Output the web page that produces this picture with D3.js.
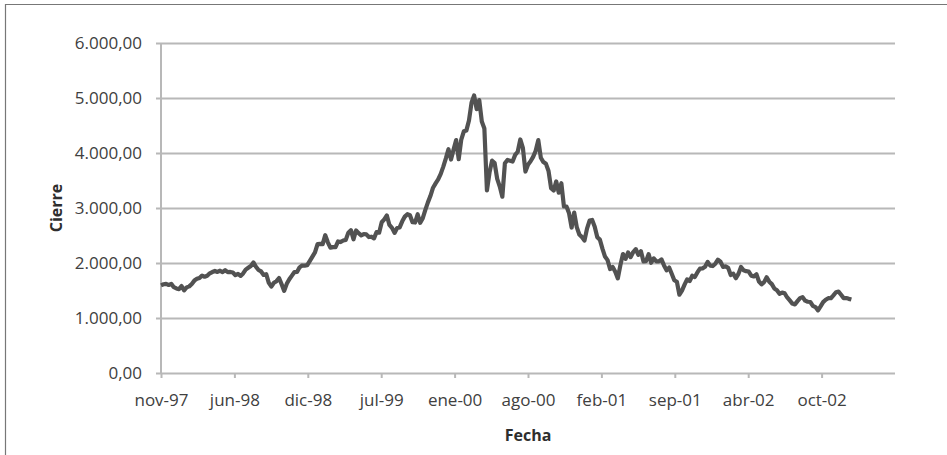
<!DOCTYPE html>
<html>
<head>
<meta charset="utf-8">
<script src="https://cdn.jsdelivr.net/npm/d3@7"></script>
<style>
  html, body { margin: 0; padding: 0; background: #fff; }
  svg { display: block; }
  .tick text { font-family: "Open Sans", sans-serif; font-size: 17px; fill: #404040; }
  .title { font-family: "Open Sans", sans-serif; font-size: 16px; font-weight: bold; fill: #2e2e2e; }
</style>
</head>
<body>
<svg id="chart" width="947" height="455"></svg>
<script>
// Weekly closing values, Nov 1997 - Dec 2002
const closes = [
  1594, 1613, 1620, 1601, 1620, 1560, 1538, 1525, 1581, 1503,
  1557, 1575, 1619, 1680, 1712, 1727, 1771, 1750, 1768, 1812,
  1836, 1855, 1837, 1860, 1833, 1869, 1835, 1837, 1826, 1779,
  1802, 1765, 1810, 1880, 1914, 1947, 2010, 1932, 1873, 1847,
  1782, 1796, 1639, 1574, 1640, 1670, 1727, 1614, 1493, 1621,
  1704, 1771, 1835, 1838, 1921, 1955, 1953, 1960, 2038, 2117,
  2193, 2344, 2348, 2344, 2506, 2376, 2278, 2289, 2288, 2392,
  2381, 2409, 2420, 2552, 2597, 2431, 2591, 2542, 2503, 2527,
  2520, 2472, 2478, 2448, 2563, 2552, 2741, 2793, 2864, 2692,
  2638, 2547, 2637, 2648, 2758, 2843, 2887, 2869, 2741, 2736,
  2886, 2731, 2816, 2966, 3102, 3221, 3369, 3448, 3520, 3620,
  3753, 3904, 4069, 3882, 4064, 4235, 3887, 4244, 4395, 4411,
  4590, 4914, 5048, 4798, 4963, 4573, 4446, 3321, 3643, 3861,
  3816, 3529, 3390, 3205, 3813, 3874, 3860, 3845, 3966, 4023,
  4246, 4095, 3663, 3787, 3849, 3930, 4042, 4234, 3914, 3835,
  3803, 3673, 3361, 3317, 3483, 3278, 3451, 3028, 3027, 2904,
  2645, 2917, 2653, 2518, 2471, 2407, 2626, 2770, 2782, 2660,
  2470, 2425, 2262, 2117, 2052, 1890, 1928, 1840, 1720, 1961,
  2163, 2075, 2192, 2107, 2199, 2252, 2149, 2215, 2028, 2034,
  2161, 2004, 2084, 2029, 2030, 2066, 1956, 1867, 1917, 1805,
  1687, 1660, 1423, 1499, 1606, 1703, 1671, 1768, 1745, 1828,
  1898, 1903, 1931, 2021, 1953, 1945, 1987, 2059, 2023, 1930,
  1938, 1911, 1782, 1805, 1724, 1802, 1929, 1868, 1852, 1845,
  1770, 1756, 1796, 1663, 1613, 1652, 1741, 1661, 1616, 1535,
  1504, 1440, 1463, 1448, 1373, 1319, 1262, 1247, 1306, 1361,
  1380, 1315, 1295, 1291, 1221, 1199, 1139, 1210, 1288, 1331,
  1360, 1359, 1411, 1468, 1479, 1422, 1362, 1364, 1348, 1335
];

const dateLabels = ["nov-97", "jun-98", "dic-98", "jul-99", "ene-00",
                    "ago-00", "feb-01", "sep-01", "abr-02", "oct-02"];
const weeksPerLabel = 28.6;
const yTicks = [0, 1000, 2000, 3000, 4000, 5000, 6000];

const svg = d3.select("#chart");
const margin = { left: 161, top: 43, right: 52, bottom: 82 };
const W = 947 - margin.left - margin.right;
const H = 455 - margin.top - margin.bottom;

// Frame (left and top edges)
svg.append("path")
  .attr("d", "M5.5,455 V4.5 H947")
  .attr("fill", "none").attr("stroke", "#777").attr("stroke-width", 1.2);

const g = svg.append("g").attr("transform", `translate(${margin.left},${margin.top})`);

const x = d3.scaleLinear().domain([0, weeksPerLabel * dateLabels.length]).range([0, W]);
const y = d3.scaleLinear().domain([0, 6000]).range([H, 0]);

const fmt = v => d3.format(",.2f")(v).replace(/,/g, "X").replace(/\./g, ",").replace(/X/g, ".");

// Horizontal gridlines with y axis labels
const yAxis = g.append("g")
  .call(d3.axisLeft(y).tickValues(yTicks).tickSize(-W - 5).tickPadding(14).tickFormat(fmt))
  .attr("transform", "translate(-5,0)");
yAxis.select(".domain").remove();
yAxis.selectAll(".tick line").attr("stroke", "#b8b8b8").attr("stroke-width", 2);
yAxis.selectAll(".tick text").attr("dy", "0.35em");

// Vertical axis line
g.append("line")
  .attr("x1", 0).attr("x2", 0).attr("y1", 0).attr("y2", H)
  .attr("stroke", "#b8b8b8").attr("stroke-width", 2);

// Bottom axis ticks and date labels
const xAxis = g.append("g")
  .attr("transform", `translate(0,${H})`)
  .call(d3.axisBottom(x)
    .tickValues(dateLabels.map((d, i) => i * weeksPerLabel))
    .tickSize(5).tickPadding(16)
    .tickFormat((d, i) => dateLabels[i]));
xAxis.select(".domain").remove();
xAxis.selectAll(".tick line").attr("stroke", "#b8b8b8").attr("stroke-width", 2);

// Closing price line
const line = d3.line().x((d, i) => x(i)).y(d => y(d));
g.append("path")
  .datum(closes)
  .attr("d", line)
  .attr("fill", "none")
  .attr("stroke", "#525252")
  .attr("stroke-width", 4.2)
  .attr("stroke-linejoin", "round");

// Axis titles
svg.append("text").attr("class", "title")
  .attr("x", margin.left + W / 2).attr("y", 441)
  .attr("text-anchor", "middle").text("Fecha");
svg.append("text").attr("class", "title")
  .attr("transform", `translate(62,${margin.top + H / 2}) rotate(-90)`)
  .attr("text-anchor", "middle").text("Cierre");
</script>
</body>
</html>
